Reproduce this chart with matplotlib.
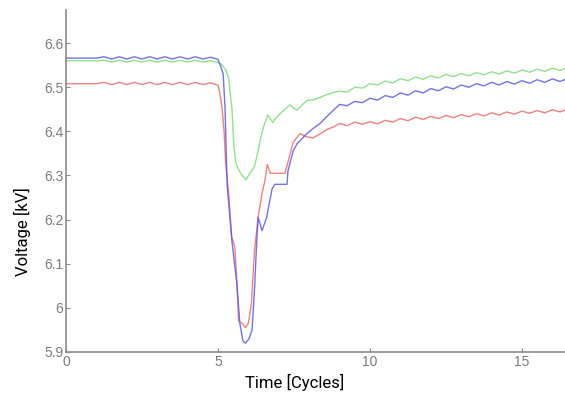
import matplotlib
matplotlib.use("Agg")
from matplotlib import pyplot as plt

# Phase voltages during the sag, time in cycles
t_pre = [0, 1.0, 1.25, 1.5, 1.75, 2.0, 2.25, 2.5, 2.75, 3.0, 3.25, 3.5,
         3.75, 4.0, 4.25, 4.5, 4.75, 5.0]
blue_pre = [6.566, 6.566, 6.569, 6.564, 6.569, 6.564, 6.569, 6.564, 6.569,
            6.564, 6.569, 6.564, 6.569, 6.564, 6.569, 6.564, 6.568, 6.563]
green_pre = [6.560, 6.560, 6.561, 6.557, 6.561, 6.557, 6.561, 6.557, 6.561,
             6.557, 6.561, 6.557, 6.561, 6.557, 6.561, 6.557, 6.560, 6.556]
red_pre = [6.508, 6.508, 6.511, 6.506, 6.511, 6.506, 6.511, 6.506, 6.511,
           6.506, 6.511, 6.506, 6.511, 6.506, 6.511, 6.506, 6.510, 6.505]

t_blue_dip = [5.1, 5.17, 5.23, 5.3, 5.46, 5.62, 5.72, 5.82, 5.9, 6.02, 6.12,
              6.2, 6.28, 6.32, 6.45, 6.6, 6.78, 6.87, 7.27, 7.3, 7.47, 7.6,
              7.93, 8.1, 8.36, 8.6, 8.8]
blue_dip = [6.545, 6.53, 6.455, 6.28, 6.15, 6.055, 5.964, 5.925, 5.92, 5.93,
            5.95, 6.04, 6.16, 6.205, 6.175, 6.205, 6.27, 6.28, 6.28, 6.31,
            6.355, 6.372, 6.395, 6.405, 6.418, 6.435, 6.448]

t_green_dip = [5.1, 5.25, 5.35, 5.46, 5.52, 5.58, 5.7, 5.8, 5.92, 6.0, 6.1,
               6.2, 6.3, 6.42, 6.52, 6.64, 6.8, 6.9, 7.04, 7.2, 7.37, 7.5,
               7.6, 7.8, 7.93, 8.15, 8.36, 8.6, 8.8]
green_dip = [6.553, 6.54, 6.52, 6.45, 6.37, 6.33, 6.31, 6.30, 6.29, 6.30,
             6.31, 6.32, 6.35, 6.39, 6.415, 6.437, 6.42, 6.43, 6.44, 6.45,
             6.46, 6.452, 6.448, 6.462, 6.47, 6.472, 6.477, 6.484, 6.488]

t_red_dip = [5.05, 5.13, 5.2, 5.25, 5.35, 5.45, 5.55, 5.62, 5.68, 5.8, 5.9,
             6.0, 6.1, 6.2, 6.32, 6.45, 6.55, 6.62, 6.72, 7.2, 7.3, 7.47,
             7.7, 7.9, 8.13, 8.3, 8.45, 8.6, 8.8]
red_dip = [6.49, 6.455, 6.40, 6.33, 6.26, 6.16, 6.14, 6.06, 5.97, 5.965,
           5.955, 5.965, 6.01, 6.13, 6.205, 6.26, 6.29, 6.325, 6.305, 6.305,
           6.33, 6.375, 6.395, 6.388, 6.385, 6.392, 6.398, 6.405, 6.41]

t_post = [9.0, 9.25, 9.5, 9.75, 10.0, 10.25, 10.5, 10.75, 11.0, 11.25, 11.5,
          11.75, 12.0, 12.25, 12.5, 12.75, 13.0, 13.25, 13.5, 13.75, 14.0,
          14.25, 14.5, 14.75, 15.0, 15.25, 15.5, 15.75, 16.0, 16.25, 16.5]
blue_post = [6.461, 6.458, 6.468, 6.465, 6.475, 6.471, 6.481, 6.477, 6.487,
             6.482, 6.492, 6.487, 6.497, 6.492, 6.501, 6.496, 6.505, 6.500,
             6.508, 6.503, 6.511, 6.505, 6.513, 6.507, 6.515, 6.509, 6.517,
             6.511, 6.519, 6.513, 6.520]
green_post = [6.491, 6.489, 6.500, 6.498, 6.508, 6.505, 6.514, 6.510, 6.519,
              6.515, 6.523, 6.518, 6.526, 6.521, 6.529, 6.524, 6.531, 6.526,
              6.533, 6.528, 6.535, 6.530, 6.537, 6.532, 6.539, 6.534, 6.541,
              6.536, 6.543, 6.538, 6.545]
red_post = [6.418, 6.413, 6.421, 6.416, 6.422, 6.417, 6.425, 6.421, 6.429,
            6.424, 6.432, 6.427, 6.434, 6.429, 6.436, 6.431, 6.438, 6.433,
            6.440, 6.435, 6.442, 6.437, 6.444, 6.439, 6.446, 6.441, 6.447,
            6.442, 6.449, 6.444, 6.450]

x_ticks = [0, 5, 10, 15]
y_ticks = [5.9, 6.0, 6.1, 6.2, 6.3, 6.4, 6.5, 6.6]
y_tick_labels = ["5.9", "6", "6.1", "6.2", "6.3", "6.4", "6.5", "6.6"]

fig = plt.figure(figsize=(5.65, 3.96), dpi=100, facecolor="white")
ax = fig.add_axes([66 / 565, 44 / 396, 499 / 565, 342 / 396])

series = [
    (t_red_dip, red_pre, red_dip, red_post, "#ee6a6a"),
    (t_green_dip, green_pre, green_dip, green_post, "#7ddc7d"),
    (t_blue_dip, blue_pre, blue_dip, blue_post, "#5a5ae6"),
]
for t_dip, pre, dip, post, col in series:
    ax.plot(t_pre + t_dip + t_post, pre + dip + post, color=col, lw=1.0, alpha=0.85)

ax.set_xlim(0, 499 / 30.4)
ax.set_ylim(5.9, 6.675)
ax.set_xticks(x_ticks)
ax.set_yticks(y_ticks)
ax.set_yticklabels(y_tick_labels)
ax.tick_params(direction="in", length=3, color="#888888", labelcolor="#7a7a7a",
               labelsize=10, pad=2)
for lbl in ax.get_xticklabels() + ax.get_yticklabels():
    lbl.set_family("Liberation Sans")
for side in ["top", "right"]:
    ax.spines[side].set_visible(False)
for side in ["left", "bottom"]:
    ax.spines[side].set_color("#8a8a8a")
    ax.spines[side].set_linewidth(1.2)

fig.text(22 / 565, 1 - 232 / 396, "Voltage [kV]", rotation=90, ha="center",
         va="center", fontsize=12, family="Roboto", color="black")
fig.text(295 / 565, 1 - 382 / 396, "Time [Cycles]", ha="center", va="center",
         fontsize=12, family="Roboto", color="black")

plt.savefig("out.png", dpi=100)
plt.close()
